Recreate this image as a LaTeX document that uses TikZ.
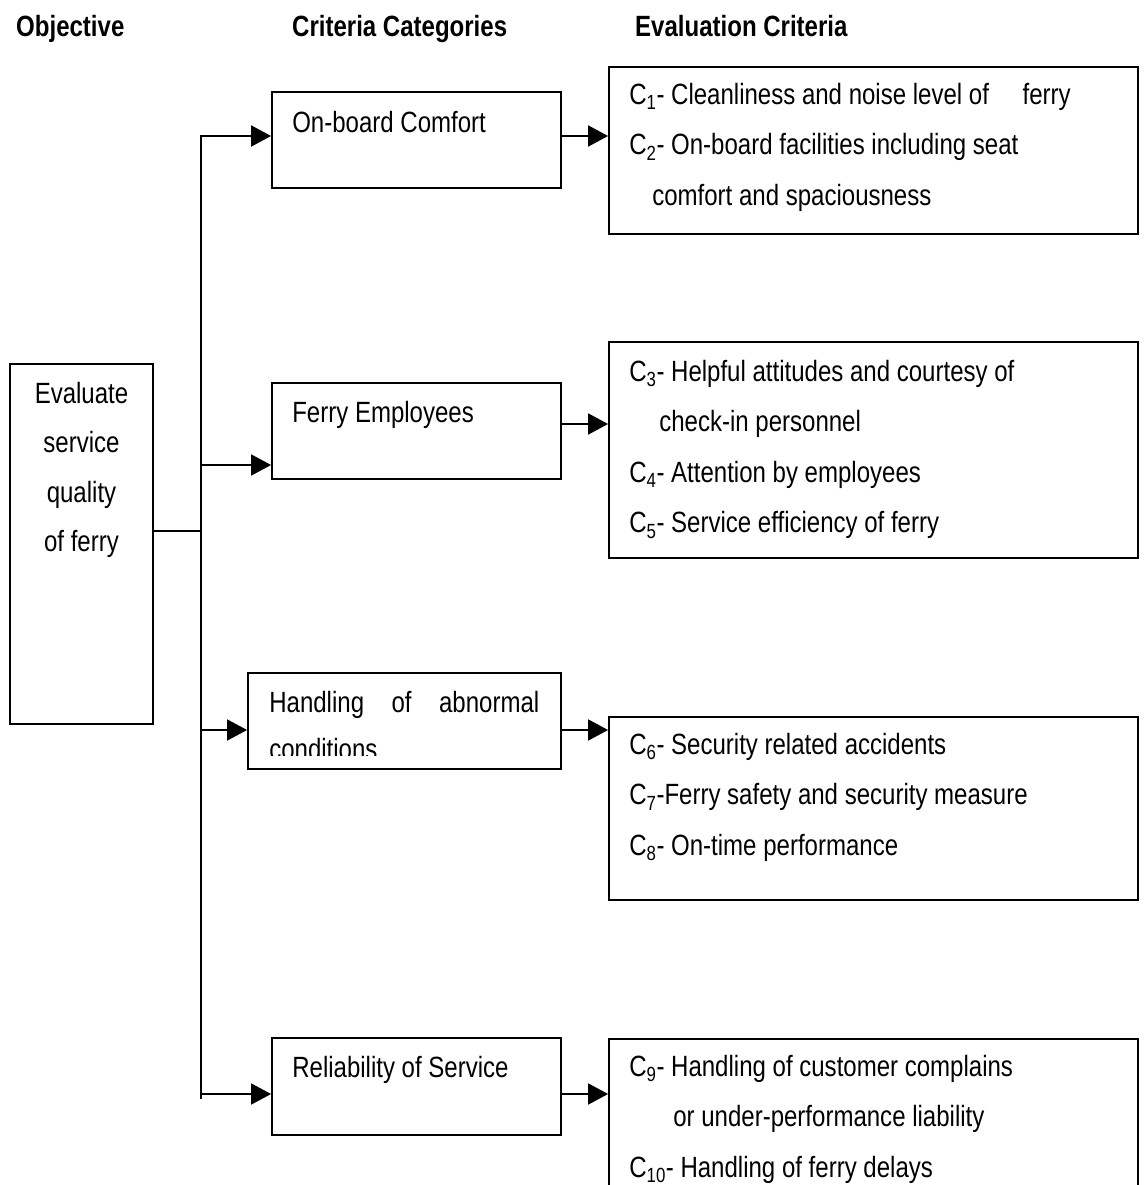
\documentclass[tikz,border=0pt]{standalone}
\usepackage{fontspec}
\setmainfont{Liberation Sans}[FakeStretch=0.82]
\usepackage{tikz}
\usetikzlibrary{positioning, arrows.meta}
\tikzstyle{objbox} = [rectangle, draw=black, line width=1.8pt, minimum width=143pt, minimum height=360pt, inner sep=0pt]
\tikzstyle{catbox} = [rectangle, draw=black, line width=1.8pt, minimum width=289pt, minimum height=96pt, inner sep=0pt]
\tikzstyle{critbox} = [rectangle, draw=black, line width=1.8pt, minimum width=529pt, inner sep=0pt]
\tikzstyle{txt} = [inner sep=0pt, anchor=base west]
\tikzstyle{lines} = [inner sep=0pt, anchor=north west, align=left]
\tikzstyle{head} = [inner sep=0pt, anchor=base west, font=\fontsize{29.3pt}{35pt}\selectfont\bfseries]
\tikzstyle{arrow} = [line width=1.8pt, -{Triangle[length=20pt,width=21pt]}]
\tikzstyle{line} = [line width=1.8pt]

\begin{document}
\begin{tikzpicture}[x=1pt, y=1pt, font=\fontsize{29.3pt}{50.5pt}\selectfont]
   \useasboundingbox (0,0) rectangle (1144,-1185);
   \clip (0,0) rectangle (1144,-1185);
   % column headings
   \node (hobj) [head] at (16,-37) {Objective};
   \node (hcat) [head] at (292,-37) {Criteria Categories};
   \node (heval) [head] at (635,-37) {Evaluation Criteria};
   % objective
   \node (obj) [objbox] at (81.5,-544) {};
   \node (objT) [inner sep=0pt, anchor=north, align=center, font=\fontsize{29.3pt}{49.5pt}\selectfont] at (81.5,-382) {Evaluate\\service\\quality\\of ferry};
   % categories
   \node (oc) [catbox] at (416.5,-140) {};
   \node (ocT) [txt] at ([xshift=21pt,yshift=-41pt]oc.north west) {On-board Comfort};
   \node (fe) [catbox] at (416.5,-431) {};
   \node (feT) [txt] at ([xshift=21pt,yshift=-40pt]fe.north west) {Ferry Employees};
   \node (ha) [catbox, minimum width=313pt] at (404.5,-721) {};
   \begin{scope}
      \clip (ha.north west) rectangle ([yshift=14pt]ha.south east);
      \node (haT) [txt] at ([xshift=22pt,yshift=-40pt]ha.north west) {\makebox[270pt][s]{Handling of abnormal}};
      \node (haC) [txt] at ([xshift=22pt,yshift=-87pt]ha.north west) {conditions};
   \end{scope}
   \node (rs) [catbox, minimum height=97pt] at (416.5,-1086.5) {};
   \node (rsT) [txt] at ([xshift=21pt,yshift=-40pt]rs.north west) {Reliability of Service};
   % evaluation criteria
   \node (e1) [critbox, minimum height=167pt] at (873.5,-150.5) {};
   \node (e1T) [lines] at ([xshift=21pt,yshift=-16.5pt]e1.north west) {C\textsubscript{1}- Cleanliness and noise level of\hspace{27pt} ferry\\C\textsubscript{2}- On-board facilities including seat\\\hspace*{23pt}comfort and spaciousness};
   \node (e2) [critbox, minimum height=216pt] at (873.5,-450) {};
   \node (e2T) [lines] at ([xshift=21pt,yshift=-18.5pt]e2.north west) {C\textsubscript{3}- Helpful attitudes and courtesy of\\\hspace*{30pt}check-in personnel\\C\textsubscript{4}- Attention by employees\\C\textsubscript{5}- Service efficiency of ferry};
   \node (e3) [critbox, minimum height=183pt] at (873.5,-808.5) {};
   \node (e3T) [lines] at ([xshift=21pt,yshift=-16.5pt]e3.north west) {C\textsubscript{6}- Security related accidents\\C\textsubscript{7}-Ferry safety and security measure\\C\textsubscript{8}- On-time performance};
   \node (e4) [critbox, minimum height=221pt] at (873.5,-1149.5) {};
   \node (e4T) [lines] at ([xshift=21pt,yshift=-16.5pt]e4.north west) {C\textsubscript{9}- Handling of customer complains\\\hspace*{44pt}or under-performance liability\\C\textsubscript{10}- Handling of ferry delays};
   % trunk and arrows
   \coordinate (t1) at (201,-136);
   \coordinate (t2) at (201,-465);
   \coordinate (t3) at (201,-730);
   \coordinate (t4) at (201,-1094);
   \coordinate (tb) at (201,-1099);
   \coordinate (tj) at (201,-531);
   \coordinate (o2) at (0,-424);
   \draw [arrow] (tb) -- (t1) -- (t1 -| oc.west);
   \draw [arrow] (t2) -- (t2 -| fe.west);
   \draw [arrow] (t3) -- (t3 -| ha.west);
   \draw [arrow] (t4) -- (t4 -| rs.west);
   \draw [line] (tj -| obj.east) -- (tj);
   \draw [arrow] (t1 -| oc.east) -- (t1 -| e1.west);
   \draw [arrow] (o2 -| fe.east) -- (o2 -| e2.west);
   \draw [arrow] (t3 -| ha.east) -- (t3 -| e3.west);
   \draw [arrow] (t4 -| rs.east) -- (t4 -| e4.west);
\end{tikzpicture}
\end{document}
